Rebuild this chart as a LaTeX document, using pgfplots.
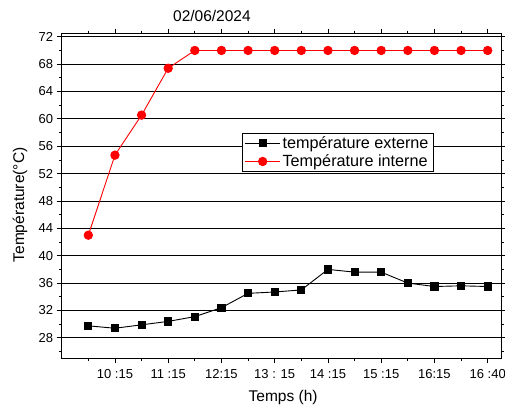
\documentclass[border=0pt]{standalone}
\usepackage{fontspec}
\setmainfont{Liberation Sans}
\usepackage{pgfplots}
\pgfplotsset{compat=1.18}
\begin{document}
\begin{tikzpicture}
\begin{axis}[
  at={(0,0)}, anchor=south west,
  scale only axis, width=439.3pt, height=324.3pt,
  xmin=-1, xmax=15.5, ymin=25.05, ymax=72.45,
  xtick={1,3,5,7,9,11,13,15},
  xticklabels={10 :15, 11 :15, 12:15, 13 : 15, 14 :15, 15 :15, 16:15, 16 :40},
  minor xtick={0,2,...,14},
  ytick={28,32,...,72},
  minor ytick={26,30,...,70},
  ymajorgrids, major grid style={black, line width=0.8pt},
  tick align=outside, major tick length=5pt, minor tick length=3pt,
  tick style={black, line width=0.8pt},
  axis line style={line width=0.9pt},
  /pgf/number format/assume math mode=true,
  ticklabel style={font=\fontsize{13}{15}\selectfont},
  xticklabel style={yshift=-3pt},
  xlabel={Temps (h)},
  ylabel={Température(°C)},
  xlabel style={at={(axis description cs:0.504,-0.123)}, anchor=center, font=\fontsize{15.5}{18}\selectfont},
  ylabel style={at={(axis description cs:-0.0949,0.472)}, anchor=center, rotate=0, font=\fontsize{15.5}{18}\selectfont},
  legend style={at={(0.41,0.694)}, anchor=north west, draw=black, line width=0.8pt, fill=white,
    font=\fontsize{16.2}{19}\selectfont, inner xsep=2.5pt, inner ysep=1pt, row sep=1pt},
  legend cell align=left,
  legend image code/.code={\draw[mark repeat=2,mark phase=2,#1] plot coordinates {(0pt,0pt) (17.5pt,0pt) (35pt,0pt)};},
  clip=false,
]
\addplot[black, line width=0.9pt, mark=square*, mark size=3.6pt, mark options={solid}] coordinates {
(0,29.75) (1,29.4) (2,29.9) (3,30.4) (4,31.1) (5,32.4) (6,34.5) (7,34.7)
(8,35.0) (9,38.0) (10,37.6) (11,37.6) (12,36.0) (13,35.5) (14,35.6) (15,35.5)};
\addlegendentry{température externe}
\addplot[red, line width=0.9pt, mark=*, mark size=4.2pt, mark options={solid}] coordinates {
(0,43.0) (1,54.7) (2,60.55) (3,67.4) (4,70.0) (5,70.0) (6,70.0) (7,70.0)
(8,70.0) (9,70.0) (10,70.0) (11,70.0) (12,70.0) (13,70.0) (14,70.0) (15,70.0)};
\addlegendentry{Température interne}
\node[font=\fontsize{15.5}{18}\selectfont] at (rel axis cs:0.342,1) [yshift=17.4pt] {02/06/2024};
\end{axis}
\pgfresetboundingbox
\path (-61.7pt,-52pt) rectangle (443.3pt,358pt);
\end{tikzpicture}
\end{document}
